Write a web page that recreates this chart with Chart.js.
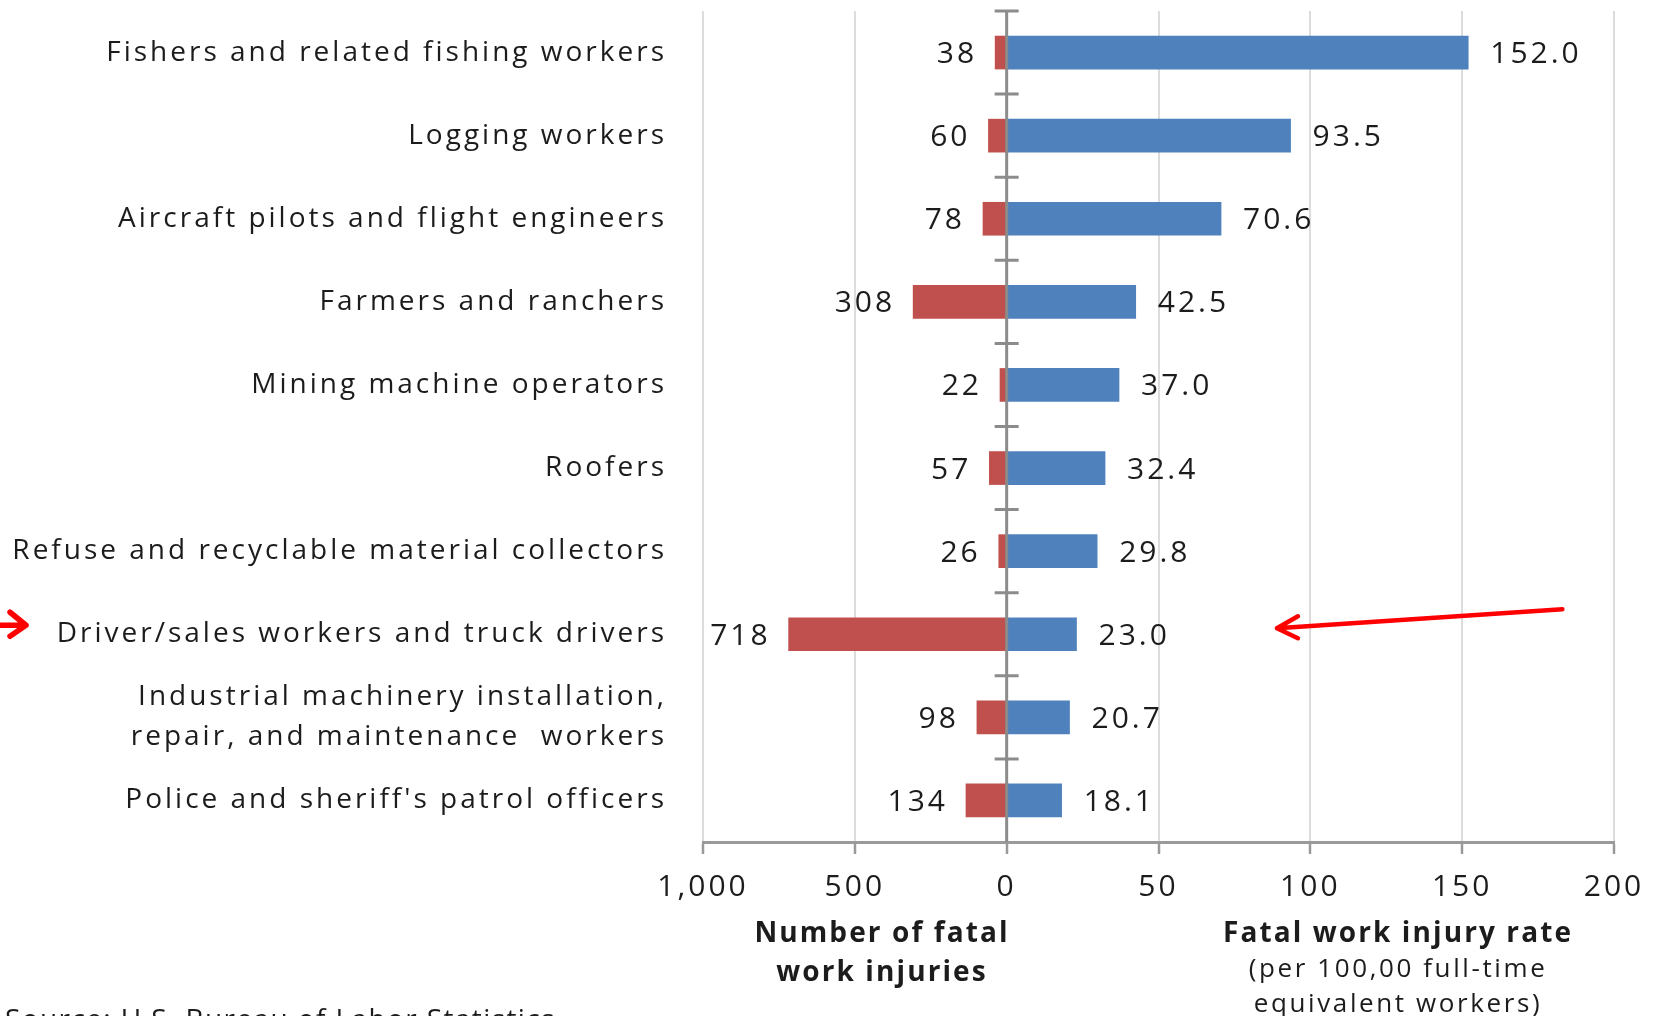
<!DOCTYPE html>
<html><head><meta charset="utf-8">
<script src="https://cdn.jsdelivr.net/npm/chart.js@4.4.1/dist/chart.umd.min.js"></script>
<style>
html,body{margin:0;padding:0;background:#fff;}
#wrap{position:relative;width:1656px;height:1016px;overflow:hidden;background:#fff;}
#c{position:absolute;left:0;top:0;}
.t{position:absolute;font-family:'Open Sans',sans-serif;color:#1c1c1c;text-align:center;white-space:nowrap;transform:translateX(-50%);}
.b{font-weight:bold;font-size:28px;line-height:39px;letter-spacing:2.1px;}
.s{font-size:26px;line-height:35px;letter-spacing:2.6px;font-weight:500;}
</style></head><body>
<div id="wrap">
<canvas id="c" width="1656" height="1016"></canvas>
<div class="t b" style="left:882px;top:912px;">Number of fatal<br>work injuries</div>
<div class="t b" style="left:1398px;top:912px;">Fatal work injury rate</div>
<div class="t s" style="left:1398px;top:950px;">(per 100,00 full-time<br>equivalent workers)</div>
<div class="t" style="left:5px;top:998px;transform:none;text-align:left;font-size:28px;line-height:40px;letter-spacing:1.4px;font-weight:500;">Source: U.S. Bureau of Labor Statistics</div>
</div>
<script>
// ---- data ----
const categories = [
  "Fishers and related fishing workers",
  "Logging workers",
  "Aircraft pilots and flight engineers",
  "Farmers and ranchers",
  "Mining machine operators",
  "Roofers",
  "Refuse and recyclable material collectors",
  "Driver/sales workers and truck drivers",
  ["Industrial machinery installation,", "repair, and maintenance  workers"],
  "Police and sheriff's patrol officers"
];
const fatalInjuries = [38, 60, 78, 308, 22, 57, 26, 718, 98, 134];
const injuryRates = [152.0, 93.5, 70.6, 42.5, 37.0, 32.4, 29.8, 23.0, 20.7, 18.1];
const countScaleFactor = 10; // left half: 1,000 injuries spans the same width as 100 rate units
const tickValues = [-100, -50, 0, 50, 100, 150, 200];
const tickLabels = ["1,000", "500", "0", "50", "100", "150", "200"];
const highlightIndex = 7;

const FONT = "'Open Sans', sans-serif";
const TEXT = '#1c1c1c';
const SPACING = '3px';

const spacingPlugin = {
  id: 'spacing',
  beforeUpdate(chart) { chart.ctx.letterSpacing = SPACING; },
  beforeDraw(chart) { chart.ctx.letterSpacing = SPACING; }
};

const zeroLinePlugin = {
  id: 'zeroLine',
  afterDatasetsDraw(chart) {
    const {ctx, chartArea} = chart;
    const xs = chart.scales.x, ys = chart.scales.y;
    const x0 = xs.getPixelForValue(0);
    ctx.save();
    ctx.strokeStyle = '#8c8c8c';
    ctx.lineWidth = 3;
    ctx.beginPath();
    ctx.moveTo(x0, chartArea.top); ctx.lineTo(x0, chartArea.bottom);
    const step = (ys.bottom - ys.top) / categories.length;
    for (let i = 0; i < categories.length; i++) {
      const y = ys.top + i * step;
      ctx.moveTo(x0 - 12, y); ctx.lineTo(x0 + 12, y);
    }
    ctx.stroke();
    ctx.restore();
  }
};

const valueLabelPlugin = {
  id: 'valueLabels',
  afterDatasetsDraw(chart) {
    const {ctx} = chart;
    ctx.save();
    ctx.fillStyle = TEXT;
    ctx.textBaseline = 'middle';
    ctx.font = "500 30px " + FONT;
    chart.data.datasets.forEach((ds, di) => {
      const meta = chart.getDatasetMeta(di);
      meta.data.forEach((bar, i) => {
        if (di === 0) {
          ctx.textAlign = 'right';
          ctx.fillText(String(fatalInjuries[i]), bar.x - 18, bar.y + 2);
        } else {
          ctx.textAlign = 'left';
          ctx.fillText(injuryRates[i].toFixed(1), bar.x + 22, bar.y + 2);
        }
      });
    });
    ctx.restore();
  }
};

const arrowPlugin = {
  id: 'arrows',
  afterDraw(chart) {
    const {ctx} = chart;
    const xs = chart.scales.x, ys = chart.scales.y;
    const yc = ys.getPixelForValue(highlightIndex);
    ctx.save();
    ctx.strokeStyle = '#ff0000';
    ctx.lineWidth = 4.5;
    ctx.lineCap = 'round';
    ctx.lineJoin = 'round';
    // right arrow pointing at the highlighted row
    const tipX = xs.getPixelForValue(89), tipY = yc - 6;
    const tailX = xs.getPixelForValue(183), tailY = yc - 25;
    ctx.beginPath();
    ctx.moveTo(tailX, tailY); ctx.lineTo(tipX, tipY);
    ctx.moveTo(tipX + 21, tipY - 12); ctx.lineTo(tipX, tipY); ctx.lineTo(tipX + 21, tipY + 10);
    ctx.stroke();
    // left arrow pointing at the highlighted label
    const lx = 26, ly = yc - 9;
    ctx.lineWidth = 5.5;
    ctx.beginPath();
    ctx.moveTo(-2, ly); ctx.lineTo(lx, ly);
    ctx.moveTo(lx - 16, ly - 13); ctx.lineTo(lx, ly); ctx.lineTo(lx - 16, ly + 11);
    ctx.stroke();
    ctx.restore();
  }
};

new Chart(document.getElementById('c'), {
  type: 'bar',
  data: {
    labels: categories,
    datasets: [
      {
        label: 'Number of fatal work injuries',
        data: fatalInjuries.map(v => -v / countScaleFactor),
        backgroundColor: '#C0504D',
        borderWidth: 0,
        barThickness: 33,
        grouped: false
      },
      {
        label: 'Fatal work injury rate',
        data: injuryRates,
        backgroundColor: '#4F81BD',
        borderWidth: 0,
        barThickness: 33,
        grouped: false
      }
    ]
  },
  options: {
    indexAxis: 'y',
    responsive: false,
    animation: false,
    devicePixelRatio: 1,
    layout: {padding: {top: 11, right: 42, left: 0, bottom: 0}},
    plugins: {legend: {display: false}, tooltip: {enabled: false}},
    scales: {
      x: {
        type: 'linear',
        min: tickValues[0],
        max: tickValues[tickValues.length - 1],
        afterBuildTicks(scale) { scale.ticks = tickValues.map(v => ({value: v})); },
        afterFit(scale) { scale.height = 174; scale.paddingLeft = 0; scale.paddingRight = 0; },
        ticks: {
          callback: (v) => tickLabels[tickValues.indexOf(v)],
          font: {family: FONT, size: 30, weight: '500'},
          color: TEXT,
          padding: 15,
          maxRotation: 0
        },
        grid: {
          color: '#dcdcdc',
          lineWidth: 2,
          drawTicks: true,
          tickLength: 12,
          tickColor: '#999',
          tickWidth: 2.5
        },
        border: {display: true, color: '#9a9a9a', width: 3}
      },
      y: {
        afterFit(scale) { scale.width = 703; scale.paddingTop = 0; scale.paddingBottom = 0; },
        ticks: {
          autoSkip: false,
          font: {family: FONT, size: 28, lineHeight: 1.42, weight: '500'},
          color: TEXT,
          padding: 36
        },
        grid: {display: false, drawTicks: false},
        border: {display: false}
      }
    }
  },
  plugins: [spacingPlugin, zeroLinePlugin, valueLabelPlugin, arrowPlugin]
});
</script>
</body></html>
